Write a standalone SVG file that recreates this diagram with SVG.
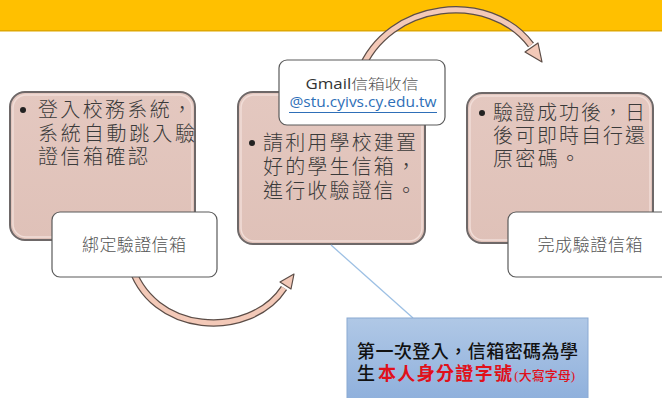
<svg xmlns="http://www.w3.org/2000/svg" width="662" height="398" viewBox="0 0 662 398">
<style>
.big{fill:url(#pink);stroke:#6e6868;stroke-width:2}
.inner{fill:none;stroke:#f1ddd7;stroke-width:1.5}
.lbl{fill:#fff;stroke:#5a5a5a;stroke-width:1.2}
.bt{font-family:"Liberation Serif","Noto Sans CJK TC","Noto Sans CJK SC",sans-serif;font-weight:300;font-size:20px;fill:#3a3a3a}
.lt{font-family:"Liberation Serif","Noto Sans CJK TC","Noto Sans CJK SC",sans-serif;font-weight:300;font-size:17px;fill:#555;text-anchor:middle}
.arcO{fill:none;stroke:#5c4d47;stroke-width:7.5}
.arcI{fill:none;stroke:#f3c9b8;stroke-width:5}
.head{fill:#f3c9b8;stroke:#5c4d47;stroke-width:1.2;stroke-linejoin:round}
.nt{font-family:"Liberation Serif","Noto Sans CJK TC","Noto Sans CJK SC",serif;font-weight:500;font-size:18px;fill:#111}
</style>
<defs>
<linearGradient id="pink" x1="0" y1="0" x2="0" y2="1">
<stop offset="0" stop-color="#e4c8c0"/>
<stop offset="1" stop-color="#dfc1b8"/>
</linearGradient>
<linearGradient id="blue" x1="0" y1="0" x2="0" y2="1">
<stop offset="0" stop-color="#b0c8e6"/>
<stop offset="1" stop-color="#8fb0dc"/>
</linearGradient>
</defs>
<rect x="0" y="0" width="662" height="31" fill="#ffc000"/>
<rect x="0" y="30" width="662" height="1.5" fill="#e0a800"/>

<g id="box1">
<rect class="big" x="10" y="92" width="185" height="148" rx="15"/>
<rect class="inner" x="13" y="95" width="179" height="142" rx="13"/>
<circle cx="23" cy="110" r="3" fill="#222"/>
<text class="bt"><tspan x="38" y="117" textLength="154" lengthAdjust="spacing">登入校務系統，</tspan><tspan x="38" y="141" textLength="157" lengthAdjust="spacing">系統自動跳入驗</tspan><tspan x="38" y="164" textLength="110" lengthAdjust="spacing">證信箱確認</tspan></text>
</g>
<g id="box2">
<rect class="big" x="238" y="92" width="187" height="152" rx="15"/>
<rect class="inner" x="241" y="95" width="181" height="146" rx="13"/>
<circle cx="252" cy="143" r="3" fill="#222"/>
<text class="bt"><tspan x="263" y="150" textLength="153" lengthAdjust="spacing">請利用學校建置</tspan><tspan x="263" y="174" textLength="153" lengthAdjust="spacing">好的學生信箱，</tspan><tspan x="263" y="198" textLength="153" lengthAdjust="spacing">進行收驗證信。</tspan></text>
</g>
<g id="box3">
<rect class="big" x="467" y="93" width="186" height="150" rx="15"/>
<rect class="inner" x="470" y="96" width="180" height="144" rx="13"/>
<circle cx="482" cy="113" r="3" fill="#222"/>
<text class="bt"><tspan x="493" y="120" textLength="152" lengthAdjust="spacing">驗證成功後，日</tspan><tspan x="493" y="143" textLength="152" lengthAdjust="spacing">後可即時自行還</tspan><tspan x="493" y="166" textLength="87" lengthAdjust="spacing">原密碼。</tspan></text>
</g>

<g id="connectors">
<path class="arcO" d="M360 72 C388 0 490 -10 531 45"/>
<path class="arcI" d="M360 72 C388 0 490 -10 531 45"/>
<polygon class="head" points="538,43 542,62 525,52"/>
<path class="arcO" d="M130 262 C150 336 250 340 284 288"/>
<path class="arcI" d="M130 262 C150 336 250 340 284 288"/>
<polygon class="head" points="291,289 294,274 280,282"/>
<line x1="331" y1="245" x2="413" y2="318" stroke="#9dc0e4" stroke-width="1.3"/>
</g>

<g id="label1">
<rect class="lbl" x="52" y="212" width="165" height="65" rx="8"/>
<text class="lt" x="134" y="251" textLength="104" lengthAdjust="spacing">綁定驗證信箱</text>
</g>
<g id="label3">
<rect class="lbl" x="508" y="212" width="166" height="65" rx="8"/>
<text class="lt" x="590" y="251" textLength="105" lengthAdjust="spacing">完成驗證信箱</text>
</g>
<g id="gmail">
<rect class="lbl" x="279" y="60" width="166" height="65" rx="8"/>
<text x="362" y="89" text-anchor="middle" font-family="'Open Sans','Noto Sans CJK TC',sans-serif" font-size="14" fill="#333" textLength="113" lengthAdjust="spacingAndGlyphs">Gmail<tspan font-family="'Noto Sans CJK TC',sans-serif" font-weight="300" fill="#555">信箱收信</tspan></text>
<text x="363" y="107" text-anchor="middle" font-family="'Open Sans','Liberation Sans',sans-serif" font-size="14" fill="#2e6fb8" textLength="147" lengthAdjust="spacingAndGlyphs">@stu.cyivs.cy.edu.tw</text>
<line x1="289" y1="112.5" x2="437" y2="112.5" stroke="#2e6fb8" stroke-width="1"/>
</g>
<g id="note">
<rect x="347" y="318" width="241" height="82" fill="url(#blue)" stroke="#8aa9d2" stroke-width="1"/>
<text class="nt" x="357" y="358" textLength="221" lengthAdjust="spacing">第一次登入，信箱密碼為學</text>
<text class="nt" x="357" y="380">生<tspan fill="#e0101a" font-weight="700" dx="3" textLength="134" lengthAdjust="spacing">本人身分證字號</tspan><tspan fill="#e0101a" font-size="13" dx="1">(大寫字母)</tspan></text>
</g>
</svg>
